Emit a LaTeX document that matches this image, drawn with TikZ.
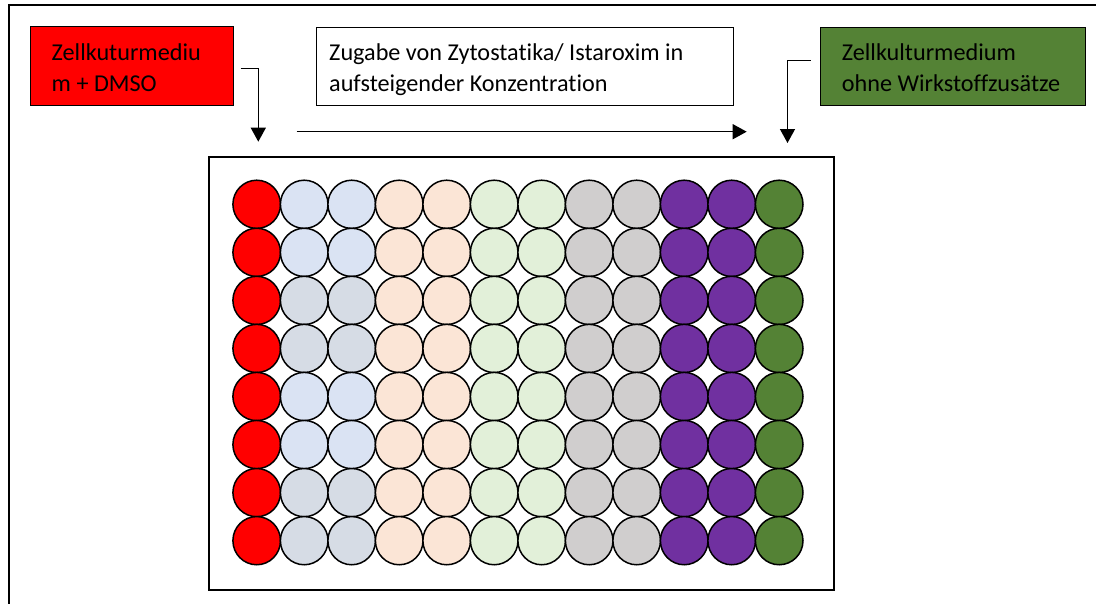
\documentclass[tikz,border=0pt]{standalone}
\usepackage{fontspec}
\setmainfont[Ligatures=NoCommon]{Carlito}
\usetikzlibrary{arrows.meta,shapes.geometric}
\definecolor{wred}{HTML}{FF0000}
\definecolor{wblueA}{HTML}{DAE3F3}
\definecolor{wblueB}{HTML}{D6DCE5}
\definecolor{wpeach}{HTML}{FBE5D6}
\definecolor{wlgreen}{HTML}{E2F0D9}
\definecolor{wgrey}{HTML}{D0CECE}
\definecolor{wpurple}{HTML}{7030A0}
\definecolor{wgreen}{HTML}{548235}
\tikzset{
  boxshape/.style={draw=black, line width=1.3pt, rectangle, inner sep=0pt, anchor=north west},
  boxtext/.style={anchor=base west, align=left, inner sep=0pt, font=\fontsize{24.2}{31.7}\selectfont},
  well/.style={draw=black, line width=1.5pt, ellipse, minimum width=47.6pt, minimum height=48.2pt, inner sep=0pt},
  conn/.style={line width=1.3pt, -{Triangle[width=15pt,length=14pt]}},
  frameline/.style={line width=2pt},
}
\begin{document}
\begin{tikzpicture}[x=1pt,y=-1pt]
\useasboundingbox (0,0) rectangle (1096,603);
\fill[white] (0,0) rectangle (1096,603);
% outer frame (top and left)
\coordinate (fbl) at (9,610);
\coordinate (ftl) at (9,5);
\coordinate (ftr) at (1100,5);
\draw[frameline] (fbl) -- (ftl) -- (ftr);
% boxes
\node[boxshape, fill=wred, minimum width=202.7pt, minimum height=79pt] (redbox) at (30,26) {};
\node[boxtext] (redtxt) at (51.5,91.7) {Zellkuturmediu\\m + DMSO};
\node[boxshape, fill=white, minimum width=416.7pt, minimum height=78.5pt] (whitebox) at (316,26.5) {};
\node[boxtext] (whitetxt) at (329,91.7) {Zugabe von Zytostatika/ Istaroxim in\\aufsteigender Konzentration};
\node[boxshape, fill=wgreen, minimum width=265pt, minimum height=78.5pt] (greenbox) at (820,26.5) {};
\node[boxtext] (greentxt) at (841.7,91.7) {Zellkulturmedium\\ohne Wirkstoffzusätze};
% plate
\node[draw=black, line width=1.8pt, rectangle, inner sep=0pt, anchor=north west, minimum width=625pt, minimum height=433pt] (plate) at (208,156) {};
% wells
\foreach \r in {0,...,7}{
  \pgfmathtruncatemacro{\rm}{mod(\r,4)}
  \ifnum\rm<2 \def\bcol{wblueA}\else\def\bcol{wblueB}\fi
  \foreach \c/\col in {0/wred,1/\bcol,2/\bcol,3/wpeach,4/wpeach,5/wlgreen,6/wlgreen,7/wgrey,8/wgrey,9/wpurple,10/wpurple,11/wgreen}{
    \node[well, fill=\col] (w-\r-\c) at ({256.7+47.5*\c},{204.3+48.05*\r}) {};
  }
}
% connectors
\coordinate (a1s) at (240.7,68.3);
\coordinate (a1e) at (258.3,141.7);
\draw[conn] (a1s) -| (a1e);
\coordinate (a2s) at (296.7,131.7);
\coordinate (a2e) at (746.7,131.7);
\draw[conn] (a2s) -- (a2e);
\coordinate (a3s) at (810.7,60.7);
\coordinate (a3e) at (787.5,143);
\draw[conn] (a3s) -| (a3e);
\end{tikzpicture}
\end{document}
